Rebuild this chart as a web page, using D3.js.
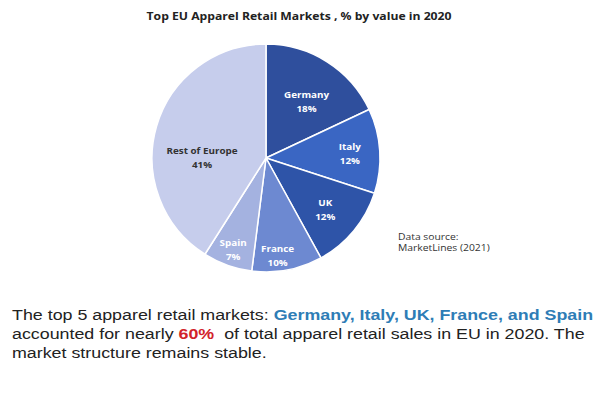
<!DOCTYPE html>
<html>
<head>
<meta charset="utf-8">
<script src="https://cdn.jsdelivr.net/npm/d3@7"></script>
<style>
  html, body { margin: 0; padding: 0; background: #fff; }
  svg { display: block; }
</style>
</head>
<body>
<svg id="chart" width="603" height="394"></svg>
<script>
// Market shares of apparel retail value, 2020
const categories = ["Germany", "Italy", "UK", "France", "Spain", "Rest of Europe"];
const shares = [18, 12, 12, 10, 7, 41];
const sliceColors = ["#2f4f9d", "#3a66c3", "#2e54a8", "#6d89d1", "#a4b2e0", "#c6cdec"];
const labelColors = ["#fff", "#fff", "#fff", "#fff", "#fff", "#333"];

const titleText = "Top EU Apparel Retail Markets , % by value in 2020";
const sourceLines = ["Data source:", "MarketLines (2021)"];

const svg = d3.select("#chart");
const cx = 266, cy = 158, r = 114;
const wide = 1.16; // horizontal stretch applied to the text blocks

svg.append("text")
  .attr("transform", `translate(299,20) scale(${wide},1)`)
  .attr("text-anchor", "middle")
  .attr("font-family", "Open Sans, sans-serif")
  .attr("font-weight", "bold")
  .attr("font-size", 10.5)
  .attr("fill", "#222")
  .text(titleText);

const data = categories.map((c, i) => ({ name: c, value: shares[i], color: sliceColors[i], ink: labelColors[i] }));

const pie = d3.pie().sort(null).value(d => d.value);
const arcs = pie(data);
const arc = d3.arc().innerRadius(0).outerRadius(r);

const g = svg.append("g").attr("transform", `translate(${cx},${cy})`);

g.selectAll("path")
  .data(arcs)
  .join("path")
  .attr("d", arc)
  .attr("fill", d => d.data.color)
  .attr("stroke", "#fff")
  .attr("stroke-width", 1.5)
  .attr("stroke-linejoin", "round");

// label placement: radial distance and angular nudge per slice
const labelRadius = { "Germany": 70, "Italy": 84, "UK": 78, "France": 98, "Spain": 97, "Rest of Europe": 64 };
const labelAngleShift = { "Germany": 3, "Italy": 0, "UK": 1, "France": 4, "Spain": 0, "Rest of Europe": -15 };

const labels = g.selectAll("g.lbl")
  .data(arcs)
  .join("g")
  .attr("class", "lbl")
  .attr("transform", d => {
    const a = (d.startAngle + d.endAngle) / 2 + labelAngleShift[d.data.name] * Math.PI / 180;
    const rr = labelRadius[d.data.name];
    return `translate(${rr * Math.sin(a)},${-rr * Math.cos(a)}) scale(1.12,1)`;
  });

labels.append("text")
  .attr("text-anchor", "middle")
  .attr("font-family", "Open Sans, sans-serif")
  .attr("font-weight", "bold")
  .attr("font-size", 8.8)
  .attr("fill", d => d.data.ink)
  .selectAll("tspan")
  .data(d => [d.data.name, d.data.value + "%"])
  .join("tspan")
  .attr("x", 0)
  .attr("y", (t, i) => i === 0 ? -3 : 11)
  .text(t => t);

svg.append("text")
  .attr("transform", `translate(398,240) scale(1.15,1)`)
  .attr("font-family", "Open Sans, sans-serif")
  .attr("font-size", 9)
  .attr("fill", "#333")
  .selectAll("tspan")
  .data(sourceLines)
  .join("tspan")
  .attr("x", 0)
  .attr("y", (t, i) => i * 11.5)
  .text(t => t);

// Summary paragraph
const para = [
  [["The top 5 apparel retail markets: ", "#222", "normal"], ["Germany, Italy, UK, France, and Spain", "#2e7db6", "bold"]],
  [["accounted for nearly ", "#222", "normal"], ["60%", "#d2232a", "bold"], ["  of total apparel retail sales in EU in 2020. The", "#222", "normal"]],
  [["market structure remains stable.", "#222", "normal"]]
];

const pt = svg.append("text")
  .attr("transform", `translate(12,0) scale(1.19,1)`)
  .attr("font-family", "Liberation Sans, Arial, sans-serif")
  .attr("font-size", 15)
  .attr("xml:space", "preserve");

para.forEach((line, li) => {
  line.forEach((seg, si) => {
    const ts = pt.append("tspan")
      .attr("fill", seg[1])
      .attr("font-weight", seg[2])
      .style("white-space", "pre")
      .text(seg[0]);
    if (si === 0) ts.attr("x", 0).attr("y", 320 + li * 19);
  });
});
</script>
</body>
</html>
